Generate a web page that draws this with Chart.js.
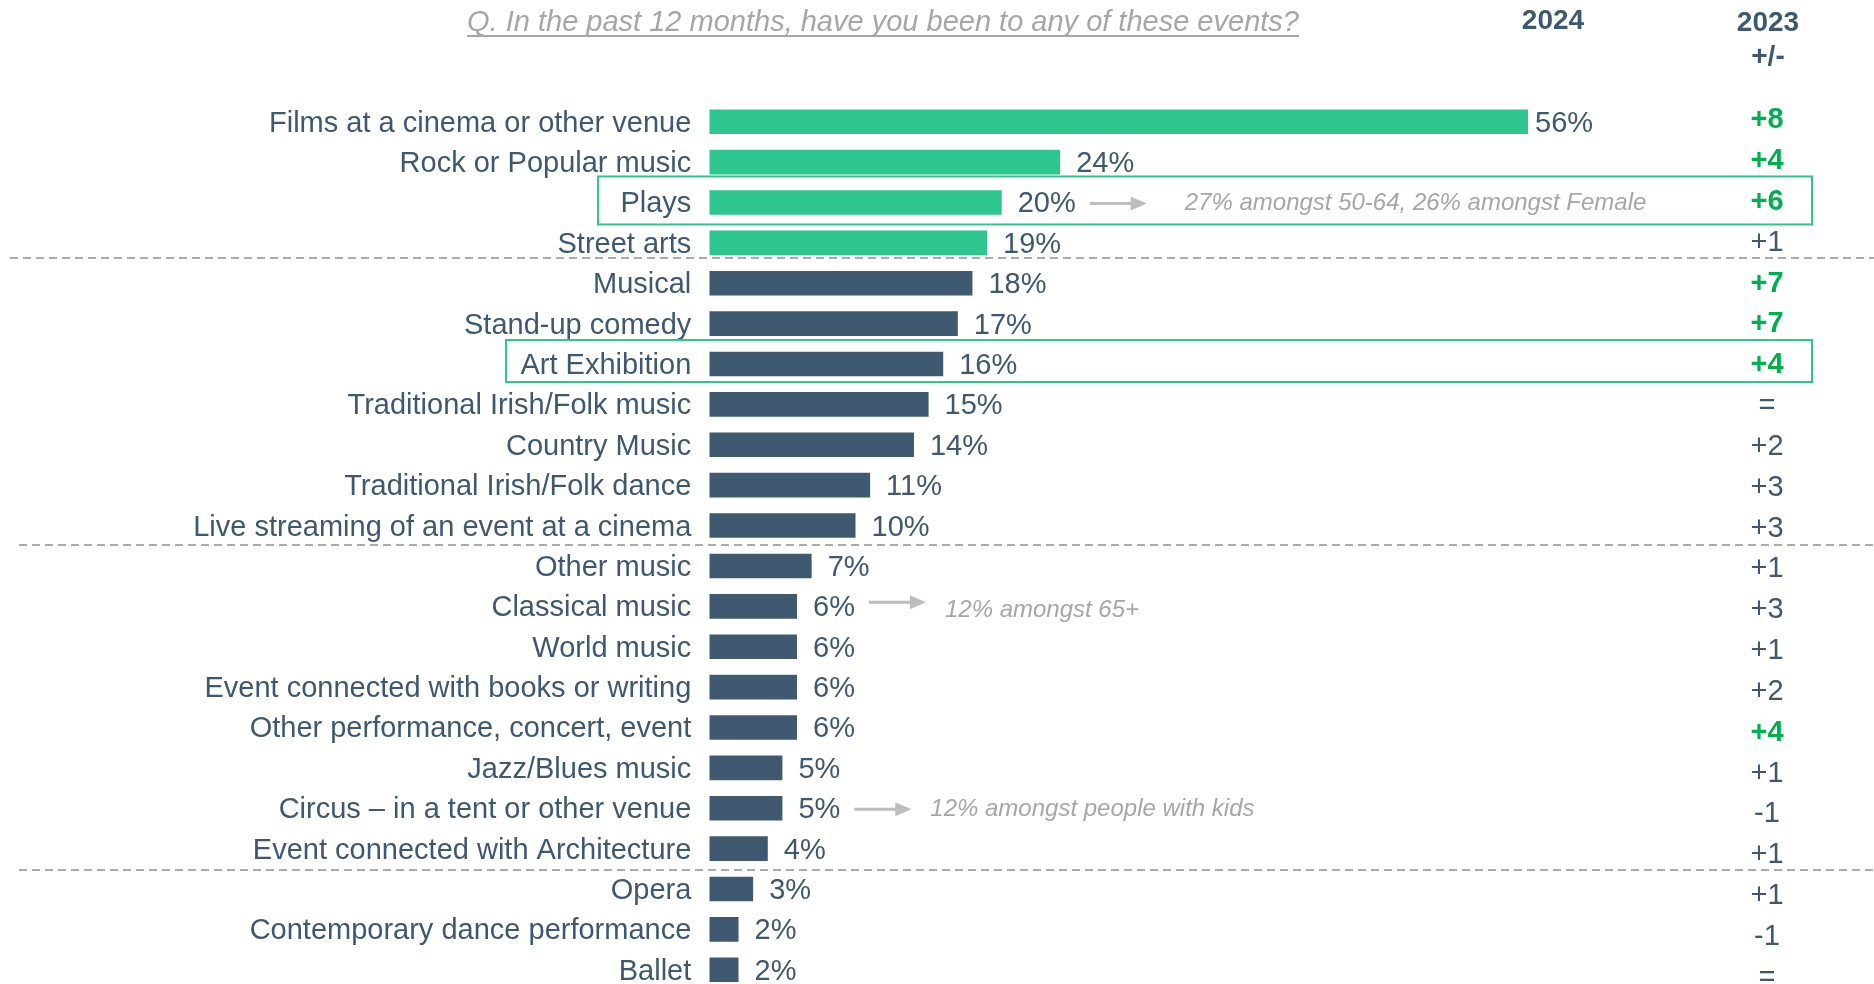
<!DOCTYPE html>
<html>
<head>
<meta charset="utf-8">
<script src="https://cdn.jsdelivr.net/npm/chart.js@4/dist/chart.umd.min.js"></script>
<style>
  html, body { margin: 0; padding: 0; background: #ffffff; overflow: hidden; }
  #wrap { position: relative; width: 1874px; height: 1000px; }
  canvas { display: block; }
</style>
</head>
<body>
<div id="wrap"><canvas id="chart"></canvas></div>
<script>
// Events attended in the past 12 months
const categories = [
  'Films at a cinema or other venue',
  'Rock or Popular music',
  'Plays',
  'Street arts',
  'Musical',
  'Stand-up comedy',
  'Art Exhibition',
  'Traditional Irish/Folk music',
  'Country Music',
  'Traditional Irish/Folk dance',
  'Live streaming of an event at a cinema',
  'Other music',
  'Classical music',
  'World music',
  'Event connected with books or writing',
  'Other performance, concert, event',
  'Jazz/Blues music',
  'Circus \u2013 in a tent or other venue',
  'Event connected with Architecture',
  'Opera',
  'Contemporary dance performance',
  'Ballet'
];

// 2024 share (%)
const values2024 = [56, 24, 20, 19, 18, 17, 16, 15, 14, 11, 10, 7, 6, 6, 6, 6, 5, 5, 4, 3, 2, 2];

// Change versus 2023 (percentage points)
const change2023 = ['+8', '+4', '+6', '+1', '+7', '+7', '+4', '=', '+2', '+3', '+3', '+1', '+3', '+1', '+2', '+4', '+1', '-1', '+1', '+1', '-1', '='];
const changeHighlighted = [true, true, true, false, true, true, true, false, false, false, false, false, false, false, false, true, false, false, false, false, false, false];

// Top group of categories (drawn in green)
const topGroupSize = 4;

// Group separators: dashed line after these category indexes
const groupBreaksAfter = [3, 10, 18];

// Highlighted rows (outlined)
const outlinedRows = ['Plays', 'Art Exhibition'];

// Sub-group notes
const notes = [
  { category: 'Plays', text: '27% amongst 50-64, 26% amongst Female' },
  { category: 'Classical music', text: '12% amongst 65+' },
  { category: 'Circus \u2013 in a tent or other venue', text: '12% amongst people with kids' }
];

const questionText = 'Q. In the past 12 months, have you been to any of these events?';
const headerCurrent = '2024';
const headerPrevious = ['2023', '+/-'];

const GREEN = '#2fc58e';
const DARK = '#3f5a70';
const TEXT = '#3d5870';
const SIG = '#00b050';
const GREY = '#a6a6a6';
const FONT = '"Liberation Sans", Arial, Helvetica, sans-serif';

const barColors = values2024.map((v, i) => i < topGroupSize ? GREEN : DARK);

// drawing tweaks for the overlay
const separatorShift = [-5, -1, 1];
const separatorStart = [10, 19, 19];
const boxGeometry = [
  { left: 598, above: 26, below: 22 },
  { left: 506, above: 24, below: 18 }
];
const boxRight = 1812;

const overlay = {
  id: 'overlay',
  beforeDatasetsDraw(chart) {
    const ctx = chart.ctx;
    const y = chart.scales.y;
    ctx.save();
    // dashed group separators
    ctx.strokeStyle = '#ababab';
    ctx.lineWidth = 2;
    ctx.setLineDash([8, 5]);
    groupBreaksAfter.forEach((idx, k) => {
      const yy = Math.round((y.getPixelForValue(idx) + y.getPixelForValue(idx + 1)) / 2) + separatorShift[k];
      ctx.beginPath();
      ctx.moveTo(separatorStart[k], yy);
      ctx.lineTo(chart.width, yy);
      ctx.stroke();
    });
    ctx.setLineDash([]);
    // outlined rows
    ctx.strokeStyle = GREEN;
    ctx.lineWidth = 2;
    outlinedRows.forEach((name, k) => {
      const i = categories.indexOf(name);
      const yc = y.getPixelForValue(i);
      const g = boxGeometry[k];
      ctx.strokeRect(g.left, yc - g.above, boxRight - g.left, g.above + g.below);
    });
    ctx.restore();
  },
  afterDatasetsDraw(chart) {
    const ctx = chart.ctx;
    const meta = chart.getDatasetMeta(0);
    const y = chart.scales.y;
    ctx.save();
    ctx.textBaseline = 'middle';

    // value labels at bar ends
    ctx.font = '29px ' + FONT;
    ctx.fillStyle = TEXT;
    ctx.textAlign = 'left';
    const labelEnds = [];
    meta.data.forEach((bar, i) => {
      const txt = values2024[i] + '%';
      const gap = i === 0 ? 7 : 16;
      ctx.fillText(txt, bar.x + gap, bar.y + 2);
      labelEnds[i] = bar.x + gap + ctx.measureText(txt).width;
    });

    // change vs previous year column
    ctx.textAlign = 'center';
    change2023.forEach((txt, i) => {
      const yy = y.getPixelForValue(i) - 1.5 + i * 0.45;
      ctx.font = (changeHighlighted[i] ? 'bold ' : '') + '29px ' + FONT;
      ctx.fillStyle = changeHighlighted[i] ? SIG : TEXT;
      ctx.fillText(txt, 1767, yy);
    });

    // column headers
    ctx.font = 'bold 28px ' + FONT;
    ctx.fillStyle = TEXT;
    ctx.fillText(headerCurrent, 1553, 21);
    ctx.fillText(headerPrevious[0], 1768, 23);
    ctx.fillText(headerPrevious[1], 1768, 57);

    // question (underlined)
    ctx.font = 'italic 29px ' + FONT;
    ctx.fillStyle = GREY;
    ctx.textBaseline = 'alphabetic';
    ctx.fillText(questionText, 883, 31);
    const qw = ctx.measureText(questionText).width;
    ctx.fillRect(883 - qw / 2, 35, qw, 2);

    // notes with arrows
    ctx.textBaseline = 'middle';
    ctx.textAlign = 'left';
    notes.forEach((n, k) => {
      const i = categories.indexOf(n.category);
      const yc = y.getPixelForValue(i);
      const x0 = labelEnds[i] + 14;
      const x1 = x0 + 57;
      const ya = yc + (k === 1 ? -4 : 1);
      ctx.strokeStyle = '#bdbdbd';
      ctx.fillStyle = '#bdbdbd';
      ctx.lineWidth = 3;
      ctx.beginPath();
      ctx.moveTo(x0, ya);
      ctx.lineTo(x1 - 14, ya);
      ctx.stroke();
      ctx.beginPath();
      ctx.moveTo(x1 - 16, ya - 7);
      ctx.lineTo(x1, ya);
      ctx.lineTo(x1 - 16, ya + 7);
      ctx.closePath();
      ctx.fill();
      ctx.font = 'italic 24px ' + FONT;
      ctx.fillStyle = GREY;
      ctx.fillText(n.text, x1 + (k === 0 ? 38 : 19), yc + (k === 1 ? 4 : 1));
    });
    ctx.restore();
  }
};

new Chart(document.getElementById('chart'), {
  type: 'bar',
  data: {
    labels: categories,
    datasets: [{
      data: values2024,
      backgroundColor: barColors,
      borderWidth: 0,
      barPercentage: 0.61,
      categoryPercentage: 1
    }]
  },
  options: {
    indexAxis: 'y',
    responsive: true,
    maintainAspectRatio: false,
    animation: false,
    devicePixelRatio: 1,
    layout: { padding: { left: 0, right: 287.5, top: 101.5, bottom: 10 } },
    plugins: {
      legend: { display: false },
      tooltip: { enabled: false },
      title: { display: false }
    },
    scales: {
      x: {
        min: 0,
        max: 60,
        display: false
      },
      y: {
        grid: { display: false, drawTicks: false },
        border: { display: false },
        afterFit(axis) {
          // fixed label column; labels sit inside the row bands, so no extra edge padding
          axis.width = 709.3;
          axis.paddingTop = 0;
          axis.paddingBottom = 0;
        },
        ticks: {
          color: TEXT,
          padding: 18,
          labelOffset: 2,
          autoSkip: false,
          font: { family: FONT, size: 29 }
        }
      }
    }
  },
  plugins: [overlay]
});
</script>
</body>
</html>
